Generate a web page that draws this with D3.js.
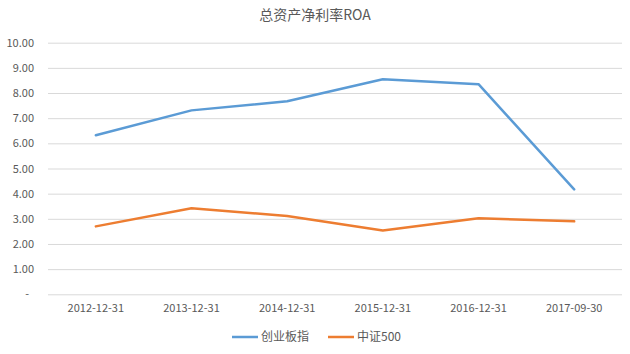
<!DOCTYPE html>
<html><head><meta charset="utf-8">
<script src="https://cdn.jsdelivr.net/npm/d3@7"></script>
<style>
body{margin:0;background:#fff;}
text{font-family:"Noto Sans CJK SC","Noto Sans",sans-serif;fill:#595959;}
</style></head>
<body><svg id="c" width="630" height="354"></svg>
<script>
const categories = ["2012-12-31","2013-12-31","2014-12-31","2015-12-31","2016-12-31","2017-09-30"];
const cybValues = [6.32, 7.31, 7.67, 8.55, 8.35, 4.17];
const zz500Values = [2.70, 3.42, 3.11, 2.54, 3.02, 2.90];
const yTicks = [0,1,2,3,4,5,6,7,8,9,10];
const seriesNames = ["创业板指","中证500"];
const colors = ["#5B9BD5","#ED7D31"];
const title = "总资产净利率ROA";

(function(){
const svg = d3.select("#c");
const mL = 48, mR = 622, mT = 42.7, mB = 294.3;
const x = d3.scaleBand().domain(categories).range([mL,mR]);
const y = d3.scaleLinear().domain([0,10]).range([mB,mT]);

svg.append("text").attr("x",315).attr("y",20).attr("text-anchor","middle")
  .style("font-size","14px").text(title);

const yAxis = d3.axisLeft(y).tickValues(yTicks).tickSize(-(mR-mL)).tickPadding(14)
  .tickFormat(d => d===0 ? "-" : d3.format(".2f")(d));
const gy = svg.append("g").attr("transform",`translate(${mL},0)`).call(yAxis);
gy.select(".domain").remove();
gy.selectAll(".tick line").attr("stroke","#d9d9d9").attr("stroke-width",1);
gy.selectAll(".tick text").style("font-size","11px").attr("fill","#595959").attr("text-anchor","end")
  .attr("x",-14);
gy.selectAll(".tick text").filter(d=>d===0).attr("x",-19);

const xAxis = d3.axisBottom(x).tickSize(0).tickPadding(10);
const gx = svg.append("g").attr("transform",`translate(0,${mB})`).call(xAxis);
gx.select(".domain").remove();
gx.selectAll(".tick text").style("font-size","11px").attr("fill","#595959");

const line = d3.line().x((d,i)=>x(categories[i])+x.bandwidth()/2).y(d=>y(d));
[cybValues, zz500Values].forEach((vals,k)=>{
  svg.append("path").datum(vals).attr("d",line).attr("fill","none")
    .attr("stroke",colors[k]).attr("stroke-width",2.5).attr("stroke-linejoin","round").attr("stroke-linecap","round");
});

const legendX = [232, 328];
seriesNames.forEach((n,k)=>{
  const g = svg.append("g").attr("transform",`translate(${legendX[k]},337)`);
  g.append("line").attr("x1",0).attr("x2",26).attr("y1",0).attr("y2",0)
    .attr("stroke",colors[k]).attr("stroke-width",2.5);
  g.append("text").attr("x",29).attr("y",0).attr("dy","0.35em").style("font-size","12px").text(n);
});
})();
</script></body></html>
